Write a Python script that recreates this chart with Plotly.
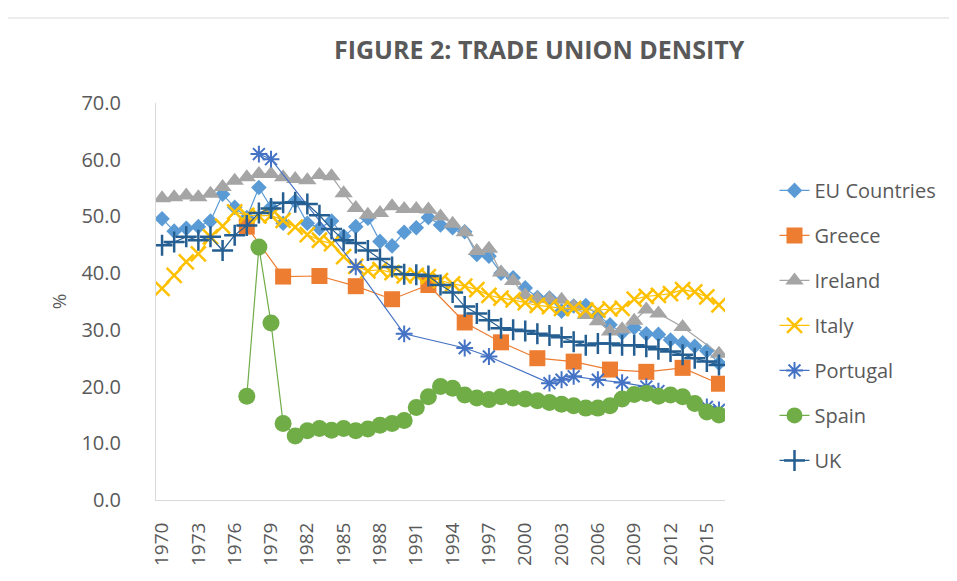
import plotly.graph_objects as go

years = list(range(1970, 2017))
tick_years = list(range(1970, 2016, 3))
tick_labels = [str(y) for y in tick_years]

N = None
eu = [49.6, 47.4, 47.9, 48.2, 49.2, 53.9, 51.6, 49.8, 55.1, 51.6,
      48.8, 52.7, 48.8, 47.9, 49.2, 46.5, 48.2, 49.7, 45.6, 44.8,
      47.2, 48.0, 49.8, 48.5, 48.0, 47.3, 43.3, 43.0, 40.0, 39.2,
      37.4, 35.7, 35.6, 33.3, 34.2, 34.3, 32.6, 30.9, 29.5, 30.4,
      29.3, 29.2, 28.2, 27.7, 27.1, 26.3, 24.1]
greece = [N, N, N, N, N, N, N, 48.2, N, N,
          39.4, N, N, 39.5, N, N, 37.7, N, N, 35.4,
          N, N, 37.9, N, N, 31.3, N, N, 27.8, N,
          N, 25.0, N, N, 24.4, N, N, 23.0, N, N,
          22.6, N, N, 23.3, N, N, 20.5]
ireland = [53.2, 53.4, 53.7, 53.4, 54.0, 55.2, 56.3, 56.9, 57.5, 57.5,
           56.9, 56.6, 56.4, 57.3, 57.1, 54.1, 51.5, 50.3, 50.6, 51.8,
           51.3, 51.3, 51.2, 50.0, 48.7, 47.2, 43.9, 44.3, 40.1, 38.6,
           36.1, 35.5, 35.5, 35.3, 34.1, 32.6, 31.5, 29.7, 30.1, 31.6,
           33.6, 32.9, N, 30.5, N, N, 25.8]
italy = [37.3, 39.6, 42.0, 43.4, 46.4, 48.3, 50.8, 50.2, 50.1, 50.2,
         49.3, 48.1, 46.8, 45.8, 45.2, 42.9, 41.2, 40.4, 40.6, 40.1,
         39.5, 39.6, 39.4, 38.7, 38.1, 37.7, 37.1, 36.1, 35.6, 35.3,
         34.8, 34.3, 34.1, 33.8, 33.8, 33.5, 33.5, 33.7, 33.8, 35.4,
         35.9, 36.1, 36.4, 37.1, 36.7, 35.8, 34.4]
portugal = [N, N, N, N, N, N, N, N, 61.0, 60.1,
            N, N, N, N, N, N, 41.1, N, N, N,
            29.3, N, N, N, N, 26.8, N, 25.3, N, N,
            N, N, 20.6, 21.2, 21.8, N, 21.2, N, 20.7, N,
            20.0, 19.2, N, N, N, 16.4, 15.9]
spain = [N, N, N, N, N, N, N, 18.3, 44.6, 31.2,
         13.5, 11.3, 12.2, 12.6, 12.3, 12.6, 12.2, 12.5, 13.2, 13.5,
         14.0, 16.3, 18.2, 20.0, 19.7, 18.5, 18.0, 17.7, 18.2, 18.0,
         17.8, 17.5, 17.2, 16.9, 16.6, 16.2, 16.2, 16.6, 17.8, 18.6,
         18.8, 18.3, 18.5, 18.2, 17.0, 15.5, 15.0]
uk = [44.9, 45.5, 46.4, 45.8, 46.4, 44.0, 46.7, 48.4, 50.6, 51.4,
      52.4, 52.5, 52.2, 50.2, 47.8, 45.8, 45.3, 44.0, 42.5, 41.1,
      39.8, 39.7, 39.5, 37.9, 36.6, 34.1, 32.9, 31.7, 30.3, 30.0,
      29.8, 29.3, 29.0, 28.7, 27.9, 27.3, 27.6, 27.6, 27.3, 27.3,
      27.0, 26.6, 26.2, 25.6, 25.0, 24.4, 23.8]

series = [
    ("EU Countries", eu, "#5B9BD5", "diamond", 12, None),
    ("Greece", greece, "#ED7D31", "square", 16, None),
    ("Ireland", ireland, "#A5A5A5", "triangle-up", 16, None),
    ("Italy", italy, "#FFC000", "x-thin-open", 15, 2.5),
    ("Portugal", portugal, "#4472C4", "asterisk-open", 14, 2),
    ("Spain", spain, "#70AD47", "circle", 17, None),
    ("UK", uk, "#255E91", "cross-thin-open", 15, 2.5),
]

fig = go.Figure()
for i, (name, vals, color, sym, size, lw) in enumerate(series):
    marker = dict(symbol=sym, size=size, color=color)
    if lw:
        marker["line"] = dict(color=color, width=lw)
    else:
        marker["line"] = dict(width=0)
    fig.add_trace(go.Scatter(
        x=years, y=vals, name=name, mode="lines+markers",
        connectgaps=True, legendgroup=f"g{i}",
        line=dict(color=color, width=1.2), marker=marker))

top, bottom = 95, 492
fig.update_layout(
    width=957, height=581,
    paper_bgcolor="white", plot_bgcolor="white",
    margin=dict(l=148, r=240, t=top, b=581 - bottom),
    font=dict(family="Open Sans", color="#595959"),
    title=dict(text="FIGURE 2: TRADE UNION DENSITY", x=0.555, xanchor="center",
               y=0.928, yanchor="middle",
               font=dict(size=25, color="#595959", family="Open Sans", weight="bold")),
    legend=dict(x=1.087, y=0.829, xanchor="left", yanchor="top",
                font=dict(size=20, color="#595959"), tracegroupgap=16,
                bgcolor="rgba(0,0,0,0)"),
    xaxis=dict(range=[1969.5, 2016.5], tickvals=tick_years, ticktext=tick_labels,
               tickangle=-90, tickfont=dict(size=19, color="#595959"),
               showline=True, linecolor="#D9D9D9", linewidth=1,
               ticks="outside", ticklen=14, tickcolor="rgba(0,0,0,0)",
               showgrid=False, zeroline=False),
    yaxis=dict(range=[0, 70], dtick=10, tickformat=".1f",
               tickfont=dict(size=20, color="#595959"),
               showline=True, linecolor="#D9D9D9", linewidth=1,
               ticks="outside", ticklen=30, tickcolor="rgba(0,0,0,0)",
               showgrid=False, zeroline=False,
               title=dict(text="%", font=dict(size=19, color="#595959"), standoff=9)),
    shapes=[dict(type="line", xref="paper", yref="paper",
                 x0=-0.26, x1=1.422,
                 y0=(bottom - 10) / (bottom - top), y1=(bottom - 10) / (bottom - top),
                 line=dict(color="#D9D9D9", width=1))],
)

fig.write_html("out.html")
